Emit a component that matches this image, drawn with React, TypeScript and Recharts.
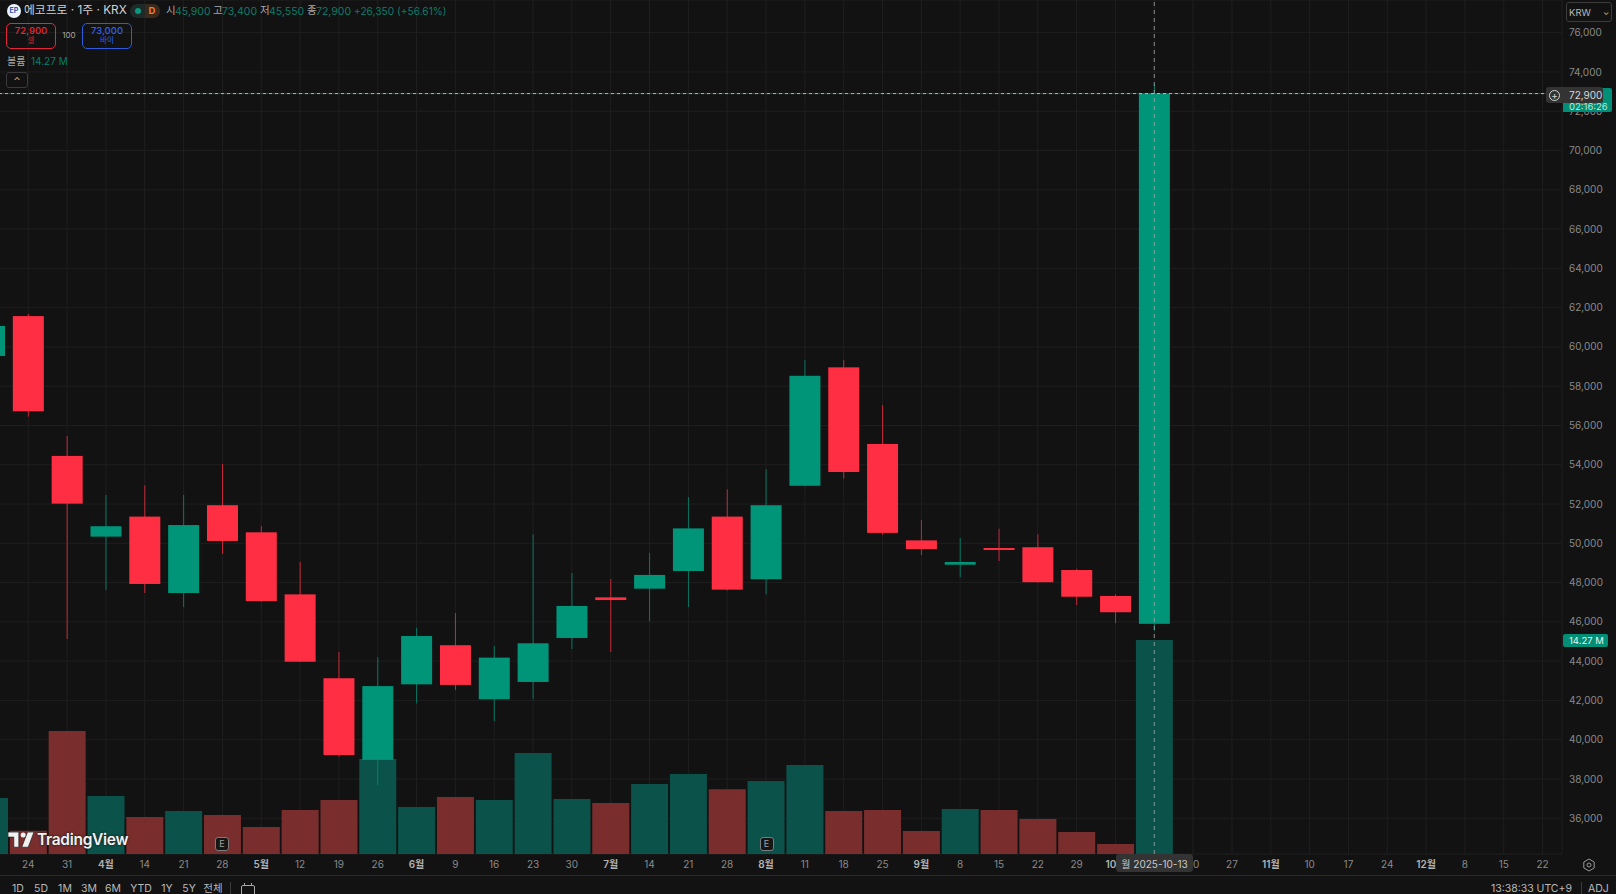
import { Bar, CartesianGrid, Cell, ComposedChart, ReferenceLine, XAxis, YAxis } from 'recharts';

const FONT = 'Inter, "Noto Sans CJK KR", sans-serif';
const UP = '#009479';
const DOWN = '#ff2e43';
const UP_VOL = '#0a524a';
const DOWN_VOL = '#7a2d2d';
const BG = '#121212';

const weeks = [
  '03-17', '03-24', '03-31', '04-07', '04-14', '04-21', '04-28', '05-05', '05-12', '05-19', '05-26',
  '06-02', '06-09', '06-16', '06-23', '06-30', '07-07', '07-14', '07-21', '07-28', '08-04', '08-11',
  '08-18', '08-25', '09-01', '09-08', '09-15', '09-22', '09-29', '10-06', '10-13', '10-20', '10-27',
  '11-03', '11-10', '11-17', '11-24', '12-01', '12-08', '12-15', '12-22',
];
const weekLabels = [
  '', '24', '31', '4월', '14', '21', '28', '5월', '12', '19', '26',
  '6월', '9', '16', '23', '30', '7월', '14', '21', '28', '8월', '11',
  '18', '25', '9월', '8', '15', '22', '29', '10월', '13', '20', '27',
  '11월', '10', '17', '24', '12월', '8', '15', '22',
];
const opens = [
  59540, 61570, 54450, 50340, 51360, 47470, 51940, 50560, 47400, 43130, 38970,
  42820, 44810, 42060, 42940, 45180, 47250, 47690, 48590, 51360, 48170, 52930,
  58960, 55060, 50150, 48910, 49760, 49800, 48640, 47320, 45900,
];
const highs = [
  61400, 61680, 55460, 52460, 52950, 52460, 54040, 50880, 49050, 44470, 44200,
  45700, 46450, 44770, 50460, 48490, 48180, 49510, 52360, 52750, 53780, 59330,
  59330, 57040, 51190, 50270, 50740, 50460, 48700, 47400, 73400,
];
const lows = [
  59300, 56450, 45130, 47620, 47470, 46760, 49460, 47010, 43950, 39130, 37690,
  41850, 42530, 40950, 42060, 44620, 44470, 46030, 46760, 47600, 47400, 52900,
  53290, 50440, 49400, 48280, 49100, 48000, 46860, 45930, 45550,
];
const closes = [
  61070, 56720, 52020, 50870, 47930, 50930, 50120, 47060, 43970, 39220, 42730,
  45280, 42790, 44180, 44910, 46810, 47110, 48390, 50760, 47640, 51940, 58530,
  53630, 50530, 49710, 49050, 49670, 48020, 47280, 46490, 72900,
];
const volumes = [
  3.73, 1.55, 8.2, 3.87, 2.47, 2.87, 2.6, 1.8, 2.93, 3.6, 6.33,
  3.13, 3.8, 3.6, 6.73, 3.67, 3.4, 4.67, 5.33, 4.31, 4.87, 5.93,
  2.87, 2.93, 1.53, 3.0, 2.93, 2.33, 1.47, 0.67, 14.27,
];
const priceTicks = [
  36000, 38000, 40000, 42000, 44000, 46000, 48000, 50000, 52000, 54000, 56000,
  58000, 60000, 62000, 64000, 66000, 68000, 70000, 72000, 74000, 76000,
];
const rangeButtons = ['1D', '5D', '1M', '3M', '6M', 'YTD', '1Y', '5Y', '전체'];
const rangeButtonX = [18, 41, 65, 89, 113, 141, 167, 189, 213];

const rows = weeks.map((week, i) => ({
  week,
  open: opens[i],
  high: highs[i],
  low: lows[i],
  close: closes[i],
  volume: volumes[i],
}));

// the bar spans low..high, the body is worked out from that span
const Candle = (props: any) => {
  const { x, y, width, height, payload } = props;
  if (payload.open === undefined) return null;
  const unit = height / (payload.high - payload.low);
  const color = payload.close >= payload.open ? UP : DOWN;
  const top = y + (payload.high - Math.max(payload.open, payload.close)) * unit;
  const bodyHeight = Math.abs(payload.close - payload.open) * unit;
  const mid = x + width / 2;
  return (
    <g>
      <line x1={mid} x2={mid} y1={y} y2={y + height} stroke={color} strokeWidth={1} strokeOpacity={0.75} />
      <rect x={x} y={top} width={width} height={Math.max(bodyHeight, 2)} fill={color} />
    </g>
  );
};

const WeekTick = (props: any) => {
  const { x, y, payload } = props;
  const label = weekLabels[weeks.indexOf(payload.value)];
  const isMonth = label.endsWith('월');
  return (
    <text
      x={x}
      y={y}
      dy={7}
      textAnchor="middle"
      fontFamily={FONT}
      fontSize={10}
      fontWeight={isMonth ? 600 : 400}
      fill={isMonth ? '#b4b4b4' : '#8a8a8a'}
    >
      {label}
    </text>
  );
};

const Txt = ({ x, y, color = '#b8b8b8', size = 11, anchor = 'left', weight = 400, children }: any) => (
  <div
    style={{
      position: 'absolute',
      left: x,
      top: y,
      transform: `translate(${anchor === 'center' ? '-50%' : anchor === 'right' ? '-100%' : '0'}, -50%)`,
      color,
      fontSize: size,
      fontWeight: weight,
      whiteSpace: 'nowrap',
      lineHeight: 1,
    }}
  >
    {children}
  </div>
);

const Box = ({ x, y, w, h, style }: any) => (
  <div style={{ position: 'absolute', left: x, top: y, width: w, height: h, boxSizing: 'border-box', ...style }} />
);

const EMark = ({ x }: { x: number }) => (
  <div
    style={{
      position: 'absolute',
      left: x - 7,
      top: 837,
      width: 14,
      height: 14,
      boxSizing: 'border-box',
      border: '1.5px solid #7c7c7c',
      borderRadius: 3,
      background: '#161616',
      color: '#a0a0a0',
      fontSize: 9,
      lineHeight: '11px',
      textAlign: 'center',
    }}
  >
    E
  </div>
);

const TopLegend = () => (
  <>
    <div
      style={{
        position: 'absolute',
        left: 7,
        top: 4,
        width: 14,
        height: 14,
        borderRadius: 7,
        background: '#eef3fb',
        color: '#2456b8',
        fontSize: 7,
        fontWeight: 700,
        lineHeight: '14px',
        textAlign: 'center',
      }}
    >
      EP
    </div>
    <Txt x={24} y={11} size={11.8} color="#d0d0d0">에코프로 · 1주 · KRX</Txt>
    <Box x={130} y={4} w={30} h={14} style={{ borderRadius: 7, background: '#1f2a28' }} />
    <Box x={145} y={4} w={15} h={14} style={{ borderRadius: '0 7px 7px 0', background: '#3a2a1c' }} />
    <Box x={135} y={8} w={6} h={6} style={{ borderRadius: 3, background: '#089981' }} />
    <Txt x={152} y={11} size={9.5} color="#f57c1f" anchor="center" weight={700}>D</Txt>
    <Txt x={166} y={11} size={10.5} color="#a8a8a8">시</Txt>
    <Txt x={175} y={11.5} size={10.5} color="#0b7d68">45,900</Txt>
    <Txt x={213} y={11} size={10.5} color="#a8a8a8">고</Txt>
    <Txt x={222} y={11.5} size={10.5} color="#0b7d68">73,400</Txt>
    <Txt x={260} y={11} size={10.5} color="#a8a8a8">저</Txt>
    <Txt x={269} y={11.5} size={10.5} color="#0b7d68">45,550</Txt>
    <Txt x={307} y={11} size={10.5} color="#a8a8a8">종</Txt>
    <Txt x={316} y={11.5} size={10.5} color="#0b7d68">72,900</Txt>
    <Txt x={354} y={11} size={10.2} color="#0b7d68">+26,350 (+56.61%)</Txt>

    <Box x={6} y={23} w={50} h={26} style={{ border: '1.5px solid #e5263a', borderRadius: 5 }} />
    <Txt x={31} y={31} size={9.5} color="#e5263a" anchor="center" weight={500}>72,900</Txt>
    <Txt x={31} y={41} size={7.5} color="#c22a39" anchor="center">셀</Txt>
    <Txt x={69} y={35} size={8} color="#a8a8a8" anchor="center">100</Txt>
    <Box x={82} y={23} w={50} h={26} style={{ border: '1.5px solid #2a5be0', borderRadius: 5 }} />
    <Txt x={107} y={31} size={9.5} color="#2f62e8" anchor="center" weight={500}>73,000</Txt>
    <Txt x={107} y={41} size={7.5} color="#2f62e8" anchor="center">바이</Txt>

    <Txt x={7} y={60.5} size={10} color="#a8a8a8">볼륨</Txt>
    <Txt x={31} y={60.5} size={10} color="#0b7d68">14.27 M</Txt>
    <Box x={6} y={72} w={22} h={16} style={{ border: '1px solid #3a3a3a', borderRadius: 3 }} />
    <Txt x={17} y={80} size={9} color="#c8c8c8" anchor="center">⌃</Txt>
  </>
);

const PriceLabels = () => (
  <>
    <Box x={1566} y={2} w={46} h={20} style={{ border: '1px solid #3c3c3c', borderRadius: 3, background: BG }} />
    <Txt x={1569} y={12.5} size={9.5} color="#b8b8b8">KRW</Txt>
    <Txt x={1606} y={12} size={8} color="#b8b8b8" anchor="center">⌄</Txt>

    <Box x={1563} y={88} w={49} h={24} style={{ background: '#008f76', borderRadius: '0 2px 2px 0' }} />
    <Txt x={1569} y={107} size={9.5} color="#bfe8de">02:16:26</Txt>
    <Box x={1546} y={87} w={17} h={16} style={{ background: '#333333', borderRadius: '3px 0 0 3px' }} />
    <Box x={1563} y={87} w={40} h={16} style={{ background: '#333333', borderRadius: '0 3px 3px 0' }} />
    <Box x={1549} y={89.5} w={11} h={11} style={{ border: '1px solid #d4d4d4', borderRadius: 6 }} />
    <Txt x={1554.5} y={94.5} size={10} color="#d4d4d4" anchor="center">+</Txt>
    <Txt x={1569} y={95} size={10} color="#d8d8d8">72,900</Txt>

    <Box x={1563} y={634} w={45} h={13} style={{ background: '#008f76', borderRadius: 2 }} />
    <Txt x={1569} y={640.5} size={9.5} color="#e6f5f1">14.27 M</Txt>
  </>
);

const BottomBar = () => (
  <>
    <Box x={1116} y={854} w={77} h={18} style={{ background: '#333333', borderRadius: 3 }} />
    <Txt x={1154.5} y={864} size={10} color="#c8c8c8" anchor="center">월 2025-10-13</Txt>
    <svg width={14} height={14} viewBox="0 0 14 14" style={{ position: 'absolute', left: 1582, top: 858 }}>
      <path d="M7 1l5.2 3v6L7 13l-5.2-3V4z" fill="none" stroke="#9a9a9a" />
      <circle cx={7} cy={7} r={2} fill="none" stroke="#9a9a9a" />
    </svg>

    <Box x={0} y={875} w={1616} h={1} style={{ background: '#2a2a2a' }} />
    {rangeButtons.map((label, i) => (
      <Txt key={label} x={rangeButtonX[i]} y={889} size={10.5} color="#b8b8b8" anchor="center">{label}</Txt>
    ))}
    <Box x={230} y={882} w={1} h={12} style={{ background: '#3a3a3a' }} />
    <Box x={241} y={885} w={14} h={14} style={{ border: '1.2px solid #a8a8a8', borderRadius: 2 }} />
    <Box x={244} y={883} w={1} h={3} style={{ background: '#a8a8a8' }} />
    <Box x={251} y={883} w={1} h={3} style={{ background: '#a8a8a8' }} />
    <Txt x={1572} y={889} size={10.5} color="#b8b8b8" anchor="right">13:38:33 UTC+9</Txt>
    <Box x={1581} y={882} w={1} h={12} style={{ background: '#3a3a3a' }} />
    <Txt x={1588} y={889} size={10.5} color="#b8b8b8">ADJ</Txt>
  </>
);

const Watermark = () => (
  <>
    <svg width={26} height={16} viewBox="0 0 36 22" style={{ position: 'absolute', left: 8, top: 832 }}>
      <path d="M0 0h15v21H8V7H0z" fill="#f2f2f2" stroke="#222" strokeWidth={1} />
      <circle cx={21} cy={4} r={3.5} fill="#f2f2f2" />
      <path d="M27 0h9l-8 21h-9z" fill="#f2f2f2" stroke="#222" strokeWidth={1} />
    </svg>
    <div
      style={{
        position: 'absolute',
        left: 37,
        top: 830,
        color: '#f2f2f2',
        fontSize: 15.5,
        fontWeight: 600,
        lineHeight: '20px',
        letterSpacing: -0.3,
        textShadow: '0 0 2px #222, 0 0 2px #222',
      }}
    >
      TradingView
    </div>
  </>
);

export default function App() {
  return (
    <div
      style={{
        position: 'fixed',
        left: 0,
        top: 0,
        width: 1616,
        height: 894,
        overflow: 'hidden',
        background: BG,
        fontFamily: FONT,
      }}
    >
      <div style={{ position: 'absolute', left: -30, top: 0 }}>
        <ComposedChart width={1646} height={875} data={rows} margin={{ top: 0, right: 0, bottom: 0, left: 0 }}>
          <CartesianGrid xAxisId="weeks" yAxisId="price" stroke="#1f1f1f" strokeWidth={1} />
          <XAxis
            xAxisId="weeks"
            dataKey="week"
            height={21}
            interval={0}
            axisLine={false}
            tickLine={false}
            tickSize={0}
            tickMargin={7}
            tick={<WeekTick />}
          />
          <XAxis xAxisId="volumeWeeks" dataKey="week" hide height={0} />
          <YAxis
            yAxisId="price"
            orientation="right"
            width={54}
            domain={[34180, 77665]}
            ticks={priceTicks}
            interval={0}
            axisLine={false}
            tickLine={false}
            tickSize={0}
            tickMargin={7}
            tickFormatter={(v: number) => v.toLocaleString('en-US')}
            tick={{ fill: '#8a8a8a', fontSize: 10, fontFamily: FONT }}
          />
          <YAxis yAxisId="volume" hide domain={[0, 56.95]} />
          <Bar
            xAxisId="volumeWeeks"
            yAxisId="volume"
            dataKey="volume"
            barSize={37}
            isAnimationActive={false}
          >
            {rows.map((row) => (
              <Cell key={row.week} fill={row.close >= row.open ? UP_VOL : DOWN_VOL} />
            ))}
          </Bar>
          <Bar
            xAxisId="weeks"
            yAxisId="price"
            dataKey={(row: any) => (row.open === undefined ? null : [row.low, row.high])}
            barSize={31}
            shape={<Candle />}
            isAnimationActive={false}
          />
          <ReferenceLine xAxisId="weeks" yAxisId="price" y={72900} stroke={UP} strokeDasharray="3 3" strokeDashoffset={3} strokeOpacity={0.5} />
          <ReferenceLine xAxisId="weeks" yAxisId="price" y={72900} stroke="#e4e4e4" strokeDasharray="3 3" strokeOpacity={0.8} />
          <ReferenceLine xAxisId="weeks" yAxisId="price" x="10-13" stroke="#a8a8a8" strokeDasharray="4 4" strokeOpacity={0.8} />
        </ComposedChart>
      </div>
      <Watermark />
      <EMark x={222} />
      <EMark x={766.5} />
      <TopLegend />
      <PriceLabels />
      <BottomBar />
    </div>
  );
}
